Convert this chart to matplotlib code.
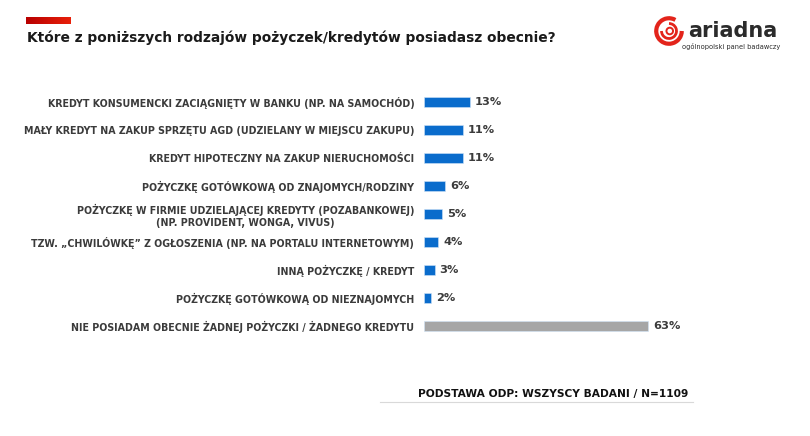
import numpy as np
import matplotlib.pyplot as plt
from matplotlib.patches import Arc, Circle
from matplotlib.colors import LinearSegmentedColormap

# data
categories = [
    "KREDYT KONSUMENCKI ZACIĄGNIĘTY W BANKU (NP. NA SAMOCHÓD)",
    "MAŁY KREDYT NA ZAKUP SPRZĘTU AGD (UDZIELANY W MIEJSCU ZAKUPU)",
    "KREDYT HIPOTECZNY NA ZAKUP NIERUCHOMOŚCI",
    "POŻYCZKĘ GOTÓWKOWĄ OD ZNAJOMYCH/RODZINY",
    "POŻYCZKĘ W FIRMIE UDZIELAJĄCEJ KREDYTY (POZABANKOWEJ)\n(NP. PROVIDENT, WONGA, VIVUS)",
    "TZW. „CHWILÓWKĘ” Z OGŁOSZENIA (NP. NA PORTALU INTERNETOWYM)",
    "INNĄ POŻYCZKĘ / KREDYT",
    "POŻYCZKĘ GOTÓWKOWĄ OD NIEZNAJOMYCH",
    "NIE POSIADAM OBECNIE ŻADNEJ POŻYCZKI / ŻADNEGO KREDYTU",
]
values = [13, 11, 11, 6, 5, 4, 3, 2, 63]
bar_colors = ["#0a6ccc"] * 8 + ["#a6a6a6"]

W, H = 810, 436
fig = plt.figure(figsize=(W / 100, H / 100), dpi=100)
fig.patch.set_facecolor("white")

def px(x, y, w, h):
    # figure rect from pixel box (top-left origin)
    return [x / W, 1 - (y + h) / H, w / W, h / H]

text_col = "#3b3b3b"

# main bars
ax = fig.add_axes(px(424, 88, 356, 252))
y = np.arange(len(categories))
ax.barh(y, values, height=0.37, color=bar_colors, edgecolor="#cfe3f7", linewidth=0.4)
ax.set_xlim(0, 100)
ax.set_ylim(len(categories) - 0.5, -0.5)
ax.set_yticks(y)
ax.set_yticklabels(categories, fontsize=6.85, fontweight="bold", color=text_col)
for lab in ax.get_yticklabels():
    lab.set_multialignment("center")
ax.tick_params(axis="y", length=0, pad=7)
ax.set_xticks([])
for s in ax.spines.values():
    s.set_visible(False)
for yi, v in zip(y, values):
    ax.annotate(f"{v}%", (v, yi), xytext=(3.5, 0), textcoords="offset points",
                va="center", ha="left", fontsize=8.2, fontweight="bold", color=text_col)

# title and red accent
fig.text(27 / W, 1 - 38 / H, "Które z poniższych rodzajów pożyczek/kredytów posiadasz obecnie?",
         fontsize=9.9, fontweight="bold", color="#1a1a1a", va="center", ha="left")
gax = fig.add_axes(px(26, 17, 45, 7))
red = LinearSegmentedColormap.from_list("red", ["#b80000", "#e8200a"])
gax.imshow(np.linspace(0, 1, 100)[None, :], cmap=red, aspect="auto")
gax.axis("off")

# logo
lax = fig.add_axes(px(654, 16, 30, 30))
lax.set_xlim(-1, 1)
lax.set_ylim(-1, 1)
lax.set_aspect("equal")
lax.axis("off")
lax.add_patch(Arc((0, 0), 1.7, 1.7, theta1=60, theta2=360, color="#e3241b", lw=3.0))
lax.add_patch(Arc((0, 0), 1.0, 1.0, theta1=180, theta2=450, color="#e3241b", lw=2.0))
lax.add_patch(Circle((0.05, 0), 0.22, fill=False, ec="#e3241b", lw=1.4))
fig.text(688 / W, 1 - 31 / H, "ariadna", fontsize=15, color="#2b2b2b",
         va="center", ha="left", fontweight="bold")
fig.text(780 / W, 1 - 47 / H, "ogólnopolski panel badawczy", fontsize=4.8,
         color="#2b2b2b", va="center", ha="right")

# footer
fig.text(418 / W, 1 - 394 / H, "PODSTAWA ODP: WSZYSCY BADANI / N=1109",
         fontsize=7.65, fontweight="bold", color="#111111", va="center", ha="left")
fig.add_artist(plt.Line2D([380 / W, 693 / W], [1 - 402 / H, 1 - 402 / H],
                          color="#d9d9d9", lw=0.8))

fig.savefig("out.png", dpi=100, facecolor="white")
